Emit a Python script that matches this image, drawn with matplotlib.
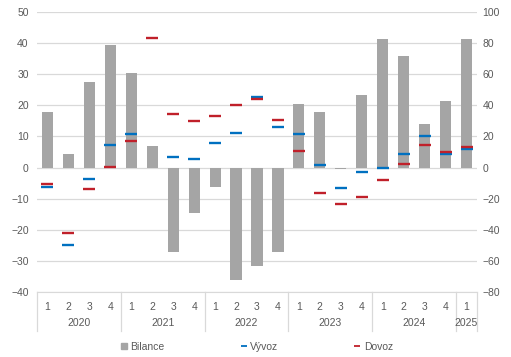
import numpy as np
import matplotlib
matplotlib.use("Agg")
import matplotlib.pyplot as plt
from matplotlib.lines import Line2D
import matplotlib.transforms as mtransforms

plt.rcParams['font.family'] = ['Liberation Sans', 'DejaVu Sans']

quarters = ["1", "2", "3", "4"] * 5 + ["1"]
years = ["2020", "2021", "2022", "2023", "2024", "2025"]
year_counts = [4, 4, 4, 4, 4, 1]

bilance = [17.8, 4.5, 27.5, 39.4, 30.4, 6.8, -27.0, -14.6, -6.3, -36.3, -31.8, -27.0,
           20.4, 17.8, -0.5, 23.3, 41.4, 35.9, 13.9, 21.3, 41.4]
vyvoz = [-6.3, -24.8, -3.8, 7.2, 10.8, np.nan, 3.3, 2.6, 7.8, 11.0, 22.7, 13.0,
         10.8, 0.75, -6.6, -1.3, -0.2, 4.2, 10.3, 4.5, 6.1]
dovoz = [-5.4, -21.0, -7.0, 0.1, 8.5, 41.8, 17.1, 14.9, 16.5, 20.0, 22.0, 15.3,
         5.3, -8.2, -11.7, -9.5, -4.1, 1.1, 7.4, 4.85, 6.6]

left_ticks = list(range(-40, 51, 10))
right_ticks = list(range(-80, 101, 20))

W, H = 511, 357
fig = plt.figure(figsize=(W / 100, H / 100), dpi=100)
ax = fig.add_axes([37 / W, 1 - 292 / H, 440 / W, 280 / H])

gray_txt = "#595959"
fs = 7.5
x = np.arange(len(bilance))

ax.set_xlim(-0.5, len(bilance) - 0.5)
ax.set_ylim(-40, 50)
ax.set_yticks(left_ticks)
ax.grid(axis="y", color="#D9D9D9", linewidth=0.9)
ax.set_axisbelow(True)

ax.bar(x, bilance, width=0.53, color="#A5A5A5", zorder=2)
ax.plot(x, vyvoz, linestyle="none", marker="_", markersize=8.6, mew=1.7,
        color="#0070C0", zorder=3)
ax.plot(x, dovoz, linestyle="none", marker="_", markersize=8.6, mew=1.7,
        color="#C0202A", zorder=4)

for s in ["top", "right", "left"]:
    ax.spines[s].set_visible(False)
ax.spines["bottom"].set_color("#D9D9D9")
ax.spines["bottom"].set_position(("data", -40))

ax.tick_params(axis="y", length=0, labelsize=fs, labelcolor=gray_txt, pad=6)
ax.set_xticks(x)
ax.set_xticklabels(quarters)
ax.tick_params(axis="x", length=0, labelsize=fs, labelcolor=gray_txt, pad=7)

ax2 = ax.twinx()
ax2.set_ylim(-80, 100)
ax2.set_yticks(right_ticks)
for s in ["top", "right", "left", "bottom"]:
    ax2.spines[s].set_visible(False)
ax2.tick_params(axis="y", length=0, labelsize=fs, labelcolor=gray_txt, pad=4)

# year group labels & separators
trans = mtransforms.blended_transform_factory(ax.transData, ax.transAxes)
sep_bottom = -(331 - 292) / 280
start = 0
bounds = [-0.5]
for yr, n in zip(years, year_counts):
    center = start + (n - 1) / 2
    ax.text(center, -(323 - 292) / 280, yr, transform=trans, ha="center", va="center",
            fontsize=fs, color=gray_txt)
    start += n
    bounds.append(start - 0.5)
for b in bounds:
    ax.plot([b, b], [0, sep_bottom], transform=trans, color="#D9D9D9",
            linewidth=0.9, clip_on=False)

handles = [
    Line2D([], [], linestyle="none", marker="s", markersize=4.5, color="#A5A5A5"),
    Line2D([], [], linestyle="none", marker="_", markersize=5, mew=1.3, color="#0070C0"),
    Line2D([], [], linestyle="none", marker="_", markersize=5, mew=1.3, color="#C0202A"),
]
leg = fig.legend(handles, ["Bilance", "Vývoz", "Dovoz"], loc="center",
                 bbox_to_anchor=(257 / W, 1 - 347 / H), ncol=3, frameon=False,
                 fontsize=fs, handlelength=0.6, handletextpad=0.3, columnspacing=7.3)
for t in leg.get_texts():
    t.set_color(gray_txt)

fig.savefig("out.png", dpi=100)
